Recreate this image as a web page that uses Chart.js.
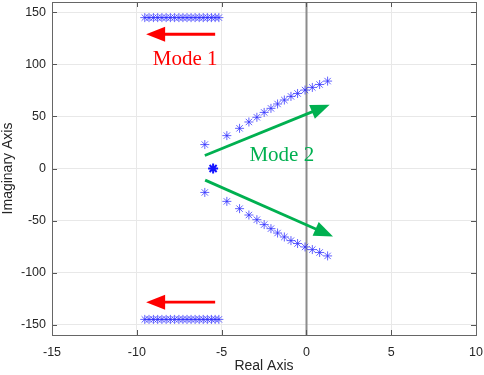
<!DOCTYPE html>
<html>
<head>
<meta charset="utf-8">
<script src="https://cdn.jsdelivr.net/npm/chart.js@4/dist/chart.umd.min.js"></script>
<style>
html,body{margin:0;padding:0;background:#fff;overflow:hidden;}
#wrap{width:484px;height:375px;position:relative;overflow:hidden;}
#c{position:absolute;left:0;top:-5px;}
</style>
</head>
<body>
<div id="wrap"><canvas id="c" width="484" height="380"></canvas></div>
<script>
// ---- data ----
const xTicks = [-15, -10, -5, 0, 5, 10];
const yTicks = [-150, -100, -50, 0, 50, 100, 150];

const mode1Re = [-9.53, -9.28, -9.02, -8.77, -8.52, -8.27, -8.02, -7.77, -7.52, -7.28, -7.04, -6.80, -6.56, -6.32, -6.08, -5.84, -5.60, -5.38, -5.16];
const mode1ImUpper = 145;
const mode1ImLower = -145;

const mode2Re = [-5.99, -4.69, -3.94, -3.39, -2.92, -2.49, -2.09, -1.70, -1.30, -0.91, -0.52, -0.08, 0.35, 0.78, 1.25];
const mode2Im = [23.0, 31.6, 38.6, 44.7, 49.2, 53.9, 57.8, 62.0, 65.8, 69.3, 72.1, 75.4, 77.9, 80.7, 84.0];

const centerRe = [-5.5];
const centerIm = [0];

const labels = ["Mode 1", "Mode 2"];

// ---- build datasets ----
const up1 = mode1Re.map(x => ({x: x, y: mode1ImUpper}));
const lo1 = mode1Re.map(x => ({x: x, y: mode1ImLower}));
const up2 = mode2Re.map((x, i) => ({x: x, y: mode2Im[i]}));
const lo2 = mode2Re.map((x, i) => ({x: x, y: -mode2Im[i]}));
const ctr = centerRe.map((x, i) => ({x: x, y: centerIm[i]}));

const starColor = 'rgba(45,45,255,0.75)';
function ds(data, bw, r, col) {
  return {data: data, showLine: false, pointStyle: 'star', pointRadius: r || 4.5,
    pointBorderWidth: bw || 1, pointBorderColor: col || starColor, pointBackgroundColor: col || starColor};
}

// annotations in data coordinates
const arrows = [
  {from: [-5.38, 129], to: [-9.45, 129], color: '#ff0000'},
  {from: [-5.38, -128.5], to: [-9.45, -128.5], color: '#ff0000'},
  {from: [-5.99, 12.5], to: [1.37, 61.3], color: '#00b050'},
  {from: [-5.97, -11.2], to: [1.57, -65.4], color: '#00b050'}
];
const texts = [
  {text: labels[0], at: [-7.15, 99.6], color: '#ff0000'},
  {text: labels[1], at: [-1.45, 7.0], color: '#00b050'}
];

const tickFont = '12.5px Arial, "Liberation Sans", sans-serif';
const tickColor = '#262626';

const overlay = {
  id: 'overlay',
  beforeDatasetsDraw(chart) {
    const {ctx, chartArea: a, scales: {x, y}} = chart;
    ctx.save();
    // zero line (x = 0)
    const zx = Math.round(x.getPixelForValue(0)) + 0.5;
    ctx.strokeStyle = '#8c8c8c';
    ctx.lineWidth = 2;
    ctx.beginPath(); ctx.moveTo(zx, a.top); ctx.lineTo(zx, a.bottom); ctx.stroke();
    // inward ticks
    ctx.strokeStyle = '#555';
    ctx.lineWidth = 1;
    const tl = 5;
    xTicks.forEach(v => {
      const px = Math.round(x.getPixelForValue(v)) + 0.5;
      ctx.beginPath();
      ctx.moveTo(px, a.bottom); ctx.lineTo(px, a.bottom - tl);
      ctx.moveTo(px, a.top); ctx.lineTo(px, a.top + tl);
      ctx.stroke();
    });
    yTicks.forEach(v => {
      const py = Math.round(y.getPixelForValue(v)) + 0.5;
      ctx.beginPath();
      ctx.moveTo(a.left, py); ctx.lineTo(a.left + tl, py);
      ctx.moveTo(a.right, py); ctx.lineTo(a.right - tl, py);
      ctx.stroke();
    });
    // tick labels
    ctx.font = tickFont;
    ctx.fillStyle = tickColor;
    ctx.textAlign = 'center'; ctx.textBaseline = 'top';
    xTicks.forEach(v => ctx.fillText(String(v), x.getPixelForValue(v), a.bottom + 11));
    ctx.textAlign = 'right'; ctx.textBaseline = 'middle';
    yTicks.forEach(v => ctx.fillText(String(v), a.left - 6, y.getPixelForValue(v)));
    ctx.restore();
  },
  afterDatasetsDraw(chart) {
    const {ctx, scales: {x, y}} = chart;
    ctx.save();
    arrows.forEach(ar => {
      const x0 = x.getPixelForValue(ar.from[0]), y0 = y.getPixelForValue(ar.from[1]);
      const x1 = x.getPixelForValue(ar.to[0]), y1 = y.getPixelForValue(ar.to[1]);
      const ang = Math.atan2(y1 - y0, x1 - x0);
      const hl = 19, hw = 7.5;
      const bx = x1 - hl * Math.cos(ang), by = y1 - hl * Math.sin(ang);
      ctx.strokeStyle = ar.color; ctx.fillStyle = ar.color;
      ctx.lineWidth = 2.8;
      ctx.beginPath(); ctx.moveTo(x0, y0); ctx.lineTo(bx + 2 * Math.cos(ang), by + 2 * Math.sin(ang)); ctx.stroke();
      ctx.beginPath();
      ctx.moveTo(x1, y1);
      ctx.lineTo(bx + hw * Math.sin(ang), by - hw * Math.cos(ang));
      ctx.lineTo(bx - hw * Math.sin(ang), by + hw * Math.cos(ang));
      ctx.closePath(); ctx.fill();
    });
    ctx.font = '21px "Liberation Serif", "Times New Roman", serif';
    ctx.textAlign = 'center';
    ctx.textBaseline = 'alphabetic';
    texts.forEach(t => {
      ctx.fillStyle = t.color;
      ctx.fillText(t.text, x.getPixelForValue(t.at[0]), y.getPixelForValue(t.at[1]));
    });
    ctx.restore();
  }
};

new Chart(document.getElementById('c'), {
  type: 'scatter',
  data: {datasets: [ds(up1), ds(lo1), ds(up2), ds(lo2), ds(ctr, 2, 5, 'rgba(20,20,255,1)')]},
  options: {
    responsive: false,
    animation: false,
    devicePixelRatio: 1,
    layout: {padding: {top: 0, right: 8, left: 0, bottom: 0}},
    plugins: {legend: {display: false}, tooltip: {enabled: false}},
    scales: {
      x: {
        type: 'linear', min: -15, max: 10,
        afterBuildTicks: s => { s.ticks = xTicks.map(v => ({value: v})); },
        afterFit: s => { s.height = 40; },
        grid: {color: '#e8e8e8', drawTicks: false},
        border: {display: true, color: '#666', width: 1},
        ticks: {display: false},
        title: {display: true, text: 'Real Axis', color: tickColor, padding: 0, font: {family: 'Arial, "Liberation Sans", sans-serif', size: 14}}
      },
      y: {
        type: 'linear', min: -160, max: 160,
        afterBuildTicks: s => { s.ticks = yTicks.map(v => ({value: v})); },
        afterFit: s => { s.width = 52; },
        grid: {color: '#e8e8e8', drawTicks: false},
        border: {display: true, color: '#666', width: 1},
        ticks: {display: false},
        title: {display: true, text: 'Imaginary Axis', color: tickColor, padding: 0, font: {family: 'Arial, "Liberation Sans", sans-serif', size: 14}}
      }
    }
  },
  plugins: [overlay, {
    id: 'frame',
    afterDraw(chart) {
      const {ctx, chartArea: a} = chart;
      ctx.save();
      ctx.strokeStyle = '#666'; ctx.lineWidth = 1;
      ctx.strokeRect(Math.round(a.left) + 0.5, Math.round(a.top) + 0.5, Math.round(a.right - a.left), Math.round(a.bottom - a.top));
      ctx.restore();
    }
  }]
});
</script>
</body>
</html>
